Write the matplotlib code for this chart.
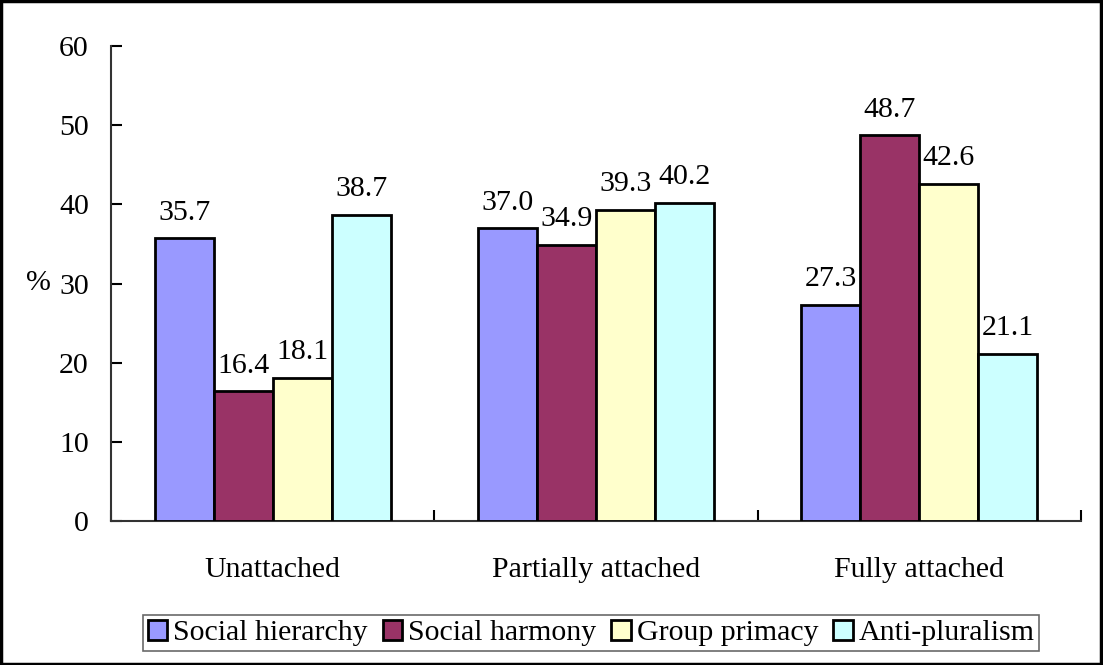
import matplotlib.pyplot as plt
import numpy as np

# === Datos ===
categories = ["Unattached", "Partially attached", "Fully attached"]
series = ["Social hierarchy", "Social harmony", "Group primacy", "Anti-pluralism"]
social_hierarchy = [35.7, 37.0, 27.3]
social_harmony = [16.4, 34.9, 48.7]
group_primacy = [18.1, 39.3, 42.6]
anti_pluralism = [38.7, 40.2, 21.1]
colors = ["#9999FF", "#993366", "#FFFFCC", "#CCFFFF"]

plt.rcParams['font.family'] = ['Liberation Serif', 'DejaVu Serif']
FS = 21.5

fig = plt.figure(figsize=(11.03, 6.65), dpi=100)
ax = fig.add_axes([111/1103, 1 - 521/665, (1081 - 111)/1103, (521 - 46)/665])

x = np.arange(len(categories))
width = 0.73 / 4
values = [social_hierarchy, social_harmony, group_primacy, anti_pluralism]
for i, (name, vals, c) in enumerate(zip(series, values, colors)):
    pos = x - 0.365 + width * (i + 0.5)
    bars = ax.bar(pos, vals, width, color=c, edgecolor="black", linewidth=2,
                  label=name, zorder=3)
    for b, v in zip(bars, vals):
        ax.annotate(f"{v:.1f}", (b.get_x() + b.get_width()/2, v),
                    xytext=(0, 9), textcoords="offset points",
                    ha="center", va="bottom", fontsize=FS)

ax.set_xlim(-0.5, 2.5)
ax.set_ylim(0, 60)
ax.set_yticks(range(0, 61, 10))
ax.set_xticks(x)
ax.set_xticklabels(categories)
ax.set_xticks([-0.5, 0.5, 1.5, 2.5], minor=True)
ax.tick_params(axis="x", which="major", length=0, labelsize=FS, pad=26)
ax.tick_params(axis="x", which="minor", direction="in", length=8, width=1.5)
ax.tick_params(axis="y", direction="in", length=8, width=1.5, labelsize=FS, pad=16)
ax.spines["top"].set_visible(False)
ax.spines["right"].set_visible(False)
for s in ["left", "bottom"]:
    ax.spines[s].set_color("#333333")
    ax.spines[s].set_linewidth(1.5)

ax.set_ylabel("%", rotation=0, fontsize=FS, va="center")
ax.yaxis.set_label_coords(-0.075, 0.5)

leg = fig.legend(loc="center", bbox_to_anchor=(0.536, 0.048), ncol=4,
                 fontsize=FS, frameon=True, fancybox=False,
                 handlelength=0.65, handleheight=0.65, handletextpad=0.2,
                 columnspacing=0.5, borderpad=0.15, edgecolor="#444444")
leg.get_frame().set_linewidth(1.2)

fig.patches.append(plt.Rectangle((0.001, 0.002), 0.997, 0.996, transform=fig.transFigure,
                                 fill=False, edgecolor="black", linewidth=2.5))

plt.savefig("out.png", dpi=100)
plt.close()
